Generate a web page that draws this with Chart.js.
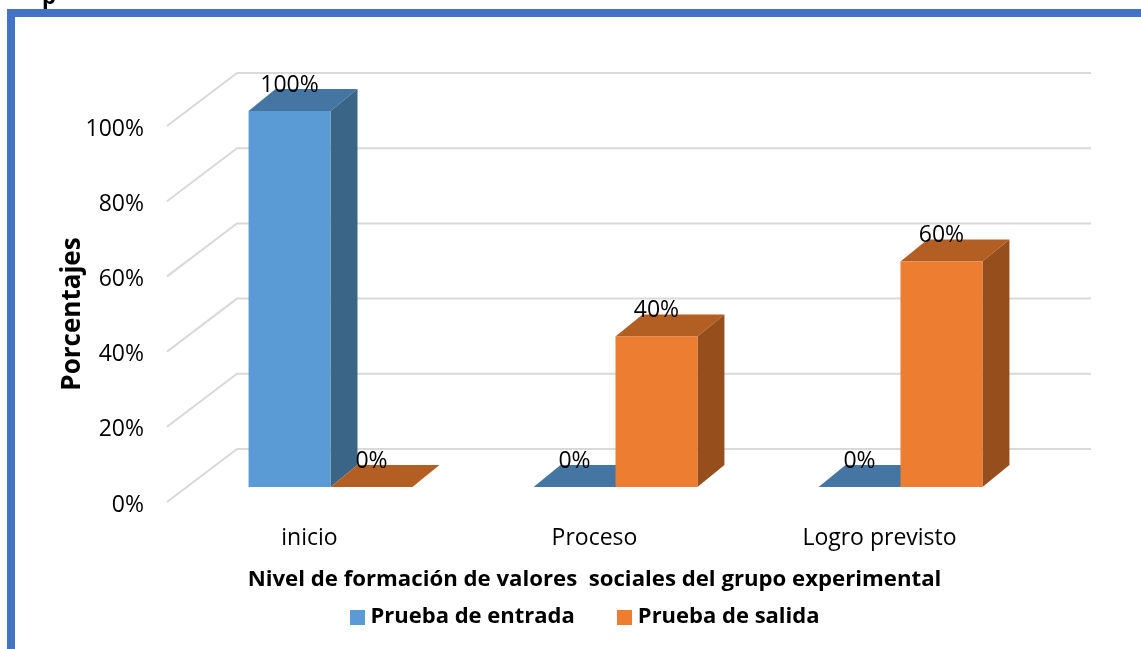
<!DOCTYPE html>
<html>
<head>
<meta charset="utf-8">
<title>Nivel de formación de valores</title>
<script src="https://cdn.jsdelivr.net/npm/chart.js@4"></script>
<style>
  html, body { margin: 0; padding: 0; background: #fff; overflow: hidden; }
  canvas { display: block; }
</style>
</head>
<body>
<canvas id="barChart" width="1141" height="649"></canvas>
<script>
var categories = ['inicio', 'Proceso', 'Logro previsto'];
var entradaValues = [100, 0, 0];
var salidaValues = [0, 40, 60];
var seriesNames = ['Prueba de entrada', 'Prueba de salida'];
var xTitle = 'Nivel de formación de valores  sociales del grupo experimental';
var yTitle = 'Porcentajes';

var fontName = '"Open Sans", sans-serif';
var frameColor = '#4472C4';
var gridColor = '#D9D9D9';
// front, top and side colours of the fake 3D bars
var faceColors = ['#5B9BD5', '#ED7D31'];
var topColors = ['#4575A3', '#B35F24'];
var sideColors = ['#3A6587', '#964F1C'];

function polygon(ctx, pts, color) {
    ctx.fillStyle = color;
    ctx.beginPath();
    ctx.moveTo(pts[0][0], pts[0][1]);
    for (var i = 1; i < pts.length; i++) {
        ctx.lineTo(pts[i][0], pts[i][1]);
    }
    ctx.closePath();
    ctx.fill();
}

// 15px legend square, used as point style so it sits closer to the text
function legendSquare(color) {
    var c = document.createElement('canvas');
    c.width = 15;
    c.height = 15;
    var g = c.getContext('2d');
    g.fillStyle = color;
    g.fillRect(0, 0, 15, 15);
    return c;
}

var fake3d = {
    id: 'fake3d',
    afterLayout: function (chart) {
        // legend is not centred on the canvas in the original
        chart.legend.left = 153;
        chart.legend.top = 558;
        chart.scales.y.top -= 6; // keeps the y title where it was
    },
    beforeDraw: function (chart) {
        var ctx = chart.ctx;
        ctx.save();
        ctx.fillStyle = frameColor;
        ctx.fillRect(7, 9, 1134, 8);
        ctx.fillRect(7, 9, 8, 640);
        // cut off word at the top edge of the screenshot
        ctx.fillStyle = '#000';
        ctx.font = 'bold 22px ' + fontName;
        ctx.textAlign = 'left';
        ctx.fillText('p', 42, -2);
        ctx.restore();
    },
    beforeDatasetsDraw: function (chart) {
        var ctx = chart.ctx;
        var area = chart.chartArea;
        var y = chart.scales.y;
        ctx.save();
        ctx.strokeStyle = gridColor;
        ctx.lineWidth = 2;
        y.ticks.forEach(function (t) {
            var py = y.getPixelForValue(t.value) - 3;
            ctx.beginPath();
            ctx.moveTo(area.left, py);
            ctx.lineTo(area.left + 70, py - 53);
            ctx.lineTo(area.right + 69, py - 53);
            ctx.stroke();
        });
        ctx.restore();
    },
    beforeDatasetDraw: function () {
        return false; // drawn in afterDatasetsDraw so the first series goes underneath
    },
    afterDatasetsDraw: function (chart) {
        var ctx = chart.ctx;
        ctx.save();
        ctx.translate(21, -18);
        chart.data.datasets.forEach(function (ds, i) {
            var meta = chart.getDatasetMeta(i);
            meta.data.forEach(function (bar) {
                var half = bar.width / 2;
                var l = bar.x - half, r = bar.x + half;
                polygon(ctx, [[l, bar.y], [r, bar.y], [r + 27, bar.y - 22], [l + 27, bar.y - 22]], topColors[i]);
                polygon(ctx, [[r, bar.y], [r + 27, bar.y - 22], [r + 27, bar.base - 22], [r, bar.base]], sideColors[i]);
            });
            meta.controller.draw();
        });
        ctx.fillStyle = '#000';
        ctx.font = '23px ' + fontName;
        ctx.textAlign = 'center';
        ctx.textBaseline = 'middle';
        chart.data.datasets.forEach(function (ds, i) {
            chart.getDatasetMeta(i).data.forEach(function (bar, j) {
                ctx.fillText(ds.data[j] + '%', bar.x, bar.y - 26);
            });
        });
        ctx.restore();
    }
};

var barChart = new Chart(document.getElementById('barChart'), {
    type: 'bar',
    data: {
        labels: categories,
        datasets: [
            { label: seriesNames[0], data: entradaValues, backgroundColor: faceColors[0] },
            { label: seriesNames[1], data: salidaValues, backgroundColor: faceColors[1] }
        ]
    },
    options: {
        responsive: false,
        animation: false,
        categoryPercentage: 0.575,
        barPercentage: 1,
        layout: { padding: { top: 129, right: 119, left: 0, bottom: 0 } },
        plugins: {
            tooltip: { enabled: false },
            legend: {
                position: 'bottom',
                onClick: null,
                labels: {
                    usePointStyle: true,
                    boxWidth: 4,
                    boxHeight: 15,
                    padding: 48,
                    color: '#000',
                    font: { family: fontName, size: 22, weight: 'bold' },
                    generateLabels: function (chart) {
                        var items = Chart.defaults.plugins.legend.labels.generateLabels(chart);
                        items.forEach(function (item, i) {
                            item.pointStyle = legendSquare(faceColors[i]);
                        });
                        return items;
                    }
                }
            }
        },
        scales: {
            x: {
                grid: { display: false, drawTicks: false },
                border: { display: false },
                ticks: { color: '#000', padding: 20, maxRotation: 0, font: { family: fontName, size: 23 } },
                title: {
                    display: true,
                    text: xTitle,
                    color: '#000',
                    padding: { top: 0, bottom: -24 },
                    font: { family: fontName, size: 22.2, weight: 'bold' }
                },
                afterFit: function (axis) {
                    axis.height = 144 - axis.chart.legend.height;
                }
            },
            y: {
                min: 0,
                max: 100,
                grid: { display: false, drawTicks: false },
                border: { display: false },
                ticks: {
                    stepSize: 20,
                    color: '#000',
                    padding: 23,
                    font: { family: fontName, size: 23 },
                    callback: function (value) { return value + '%'; }
                },
                title: {
                    display: true,
                    text: yTitle,
                    color: '#000',
                    padding: { top: 57, bottom: 0 },
                    font: { family: fontName, size: 26, weight: 'bold' }
                },
                afterFit: function (axis) {
                    axis.width = 167;
                }
            }
        }
    },
    plugins: [fake3d]
});
</script>
</body>
</html>
